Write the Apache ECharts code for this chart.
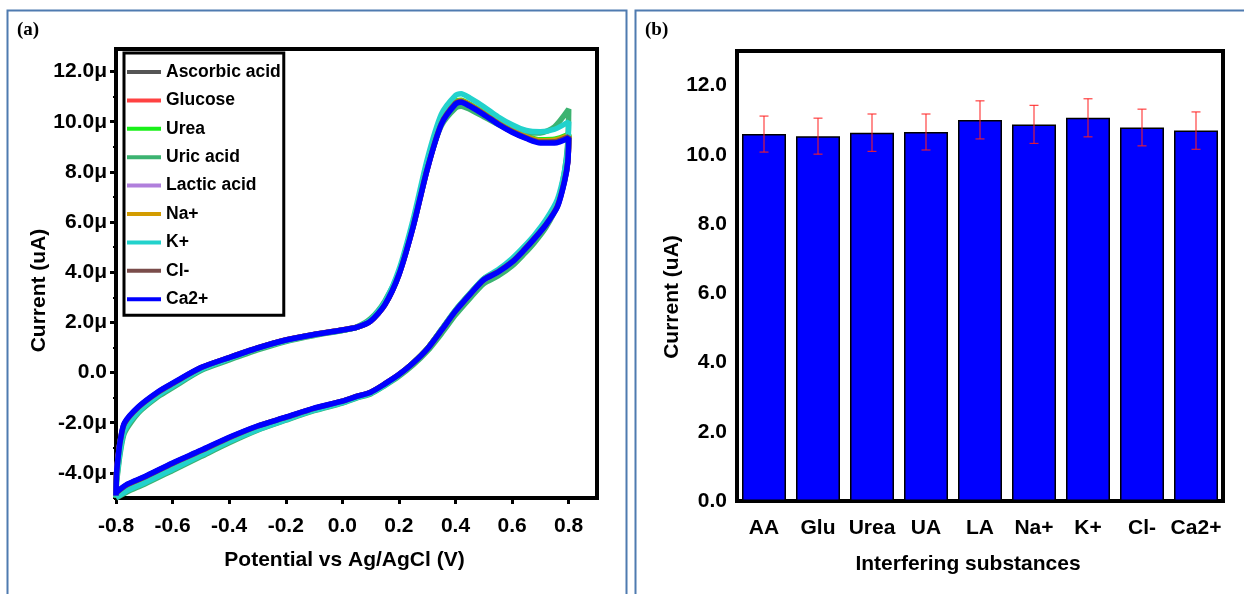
<!DOCTYPE html>
<html>
<head>
    <meta charset="utf-8">
    <title>Interference study</title>
    <script src="https://cdn.jsdelivr.net/npm/echarts@6/dist/echarts.min.js"></script>
    <style>
        html, body { margin: 0; padding: 0; background: #fff; }
        #chart { width: 1244px; height: 594px; }
    </style>
</head>
<body>
<div id="chart"></div>
<script>
    // (a) CV loop: potential (V), forward scan then reverse scan
    var potential = [
        -0.8, -0.798, -0.792, -0.785, -0.77, -0.72, -0.65, -0.6, -0.5, -0.4, -0.3, -0.2, -0.1, 0.0, 0.05,
        0.1, 0.15, 0.2, 0.25, 0.3, 0.35, 0.4, 0.42, 0.45, 0.5, 0.55, 0.6, 0.65, 0.7, 0.75, 0.8,
        0.797, 0.785, 0.76, 0.72, 0.68, 0.64, 0.6, 0.55, 0.5, 0.45, 0.4, 0.35, 0.3, 0.25,
        0.2, 0.15, 0.1, 0.05, 0.0, -0.1, -0.2, -0.3, -0.4, -0.5, -0.6, -0.7, -0.76, -0.8
    ];
    // currents in µA, same order as potential
    var ascorbicAcid = [
        -4.92, -4.1, -3.4, -2.8, -2.1, -1.4, -0.8, -0.47, 0.18, 0.58, 0.97, 1.29, 1.51, 1.69, 1.8,
        2.07, 2.72, 3.95, 5.85, 8.15, 9.95, 10.75, 10.82, 10.66, 10.32, 9.95, 9.62, 9.38, 9.22, 9.25, 9.45,
        8.5, 7.7, 6.7, 5.95, 5.4, 4.9, 4.45, 4.05, 3.72, 3.12, 2.47, 1.7, 0.95, 0.38,
        -0.1, -0.47, -0.8, -0.97, -1.16, -1.45, -1.8, -2.16, -2.62, -3.14, -3.64, -4.18, -4.5, -4.82
    ];
    var glucose = [
        -4.9, -4.05, -3.35, -2.75, -2.05, -1.38, -0.8, -0.46, 0.19, 0.59, 0.97, 1.3, 1.52, 1.7, 1.81,
        2.06, 2.7, 3.92, 5.82, 8.12, 9.92, 10.72, 10.8, 10.64, 10.3, 9.92, 9.6, 9.36, 9.2, 9.22, 9.4,
        8.45, 7.65, 6.65, 5.92, 5.37, 4.87, 4.42, 4.02, 3.7, 3.1, 2.46, 1.69, 0.94, 0.38,
        -0.09, -0.46, -0.79, -0.96, -1.15, -1.44, -1.79, -2.15, -2.6, -3.12, -3.62, -4.17, -4.47, -4.8
    ];
    var urea = [
        -4.93, -4.1, -3.45, -2.85, -2.1, -1.42, -0.8, -0.47, 0.17, 0.58, 0.96, 1.28, 1.51, 1.69, 1.8,
        2.08, 2.75, 3.98, 5.9, 8.2, 10.0, 10.8, 10.86, 10.7, 10.36, 9.98, 9.66, 9.42, 9.28, 9.3, 9.5,
        8.6, 7.75, 6.72, 5.98, 5.42, 4.92, 4.47, 4.06, 3.74, 3.13, 2.48, 1.7, 0.95, 0.38,
        -0.1, -0.48, -0.8, -0.98, -1.17, -1.47, -1.83, -2.2, -2.66, -3.2, -3.7, -4.25, -4.55, -4.86
    ];
    var uricAcid = [
        -5.0, -4.4, -3.8, -3.2, -2.4, -1.6, -0.95, -0.6, 0.08, 0.5, 0.9, 1.24, 1.48, 1.68, 1.82,
        2.15, 2.85, 4.0, 5.9, 8.2, 9.85, 10.55, 10.62, 10.5, 10.2, 9.9, 9.65, 9.55, 9.55, 9.8, 10.5,
        9.2, 8.0, 6.7, 5.8, 5.2, 4.7, 4.25, 3.85, 3.55, 2.95, 2.3, 1.55, 0.85, 0.3,
        -0.15, -0.52, -0.85, -1.02, -1.22, -1.52, -1.9, -2.3, -2.8, -3.35, -3.9, -4.45, -4.75, -5.0
    ];
    var lacticAcid = [
        -4.9, -4.02, -3.32, -2.72, -2.02, -1.37, -0.77, -0.44, 0.19, 0.6, 0.98, 1.3, 1.52, 1.7, 1.8,
        2.05, 2.7, 3.9, 5.8, 8.1, 9.92, 10.73, 10.8, 10.64, 10.3, 9.92, 9.6, 9.35, 9.18, 9.18, 9.38,
        8.45, 7.62, 6.62, 5.9, 5.36, 4.86, 4.41, 4.01, 3.7, 3.1, 2.45, 1.68, 0.94, 0.38,
        -0.08, -0.45, -0.78, -0.95, -1.14, -1.43, -1.79, -2.14, -2.6, -3.12, -3.62, -4.17, -4.47, -4.8
    ];
    var sodium = [
        -4.92, -4.05, -3.38, -2.78, -2.06, -1.4, -0.79, -0.46, 0.18, 0.59, 0.97, 1.29, 1.51, 1.69, 1.8,
        2.06, 2.72, 3.94, 5.85, 8.15, 9.95, 10.76, 10.84, 10.68, 10.34, 9.96, 9.64, 9.4, 9.24, 9.26, 9.46,
        8.5, 7.68, 6.68, 5.94, 5.39, 4.89, 4.44, 4.04, 3.72, 3.12, 2.47, 1.69, 0.95, 0.38,
        -0.09, -0.46, -0.79, -0.96, -1.15, -1.44, -1.8, -2.16, -2.62, -3.15, -3.66, -4.2, -4.5, -4.82
    ];
    var potassium = [
        -4.95, -4.3, -3.7, -3.1, -2.3, -1.55, -0.9, -0.55, 0.12, 0.55, 0.95, 1.27, 1.5, 1.68, 1.8,
        2.1, 2.8, 4.1, 6.1, 8.5, 10.3, 11.05, 11.12, 10.95, 10.6, 10.2, 9.88, 9.65, 9.6, 9.7, 10.0,
        9.0, 8.0, 6.9, 6.1, 5.5, 5.0, 4.55, 4.1, 3.75, 3.15, 2.5, 1.72, 0.95, 0.38,
        -0.1, -0.5, -0.82, -1.0, -1.2, -1.5, -1.88, -2.28, -2.75, -3.3, -3.85, -4.4, -4.7, -4.98
    ];
    var chloride = [
        -4.9, -4.03, -3.33, -2.73, -2.03, -1.37, -0.77, -0.44, 0.19, 0.6, 0.98, 1.3, 1.52, 1.7, 1.8,
        2.05, 2.7, 3.91, 5.82, 8.12, 9.93, 10.74, 10.81, 10.65, 10.31, 9.93, 9.61, 9.36, 9.19, 9.2, 9.4,
        8.45, 7.64, 6.64, 5.91, 5.37, 4.87, 4.42, 4.02, 3.71, 3.11, 2.46, 1.69, 0.94, 0.38,
        -0.08, -0.45, -0.78, -0.95, -1.14, -1.43, -1.79, -2.14, -2.6, -3.12, -3.62, -4.17, -4.47, -4.8
    ];
    var calcium = [
        -4.9, -4.0, -3.3, -2.7, -2.0, -1.35, -0.75, -0.42, 0.2, 0.6, 0.98, 1.3, 1.52, 1.7, 1.8,
        2.05, 2.7, 3.9, 5.8, 8.1, 9.9, 10.7, 10.78, 10.62, 10.28, 9.9, 9.58, 9.33, 9.15, 9.15, 9.35,
        8.4, 7.6, 6.6, 5.9, 5.35, 4.85, 4.4, 4.0, 3.7, 3.1, 2.45, 1.68, 0.94, 0.38,
        -0.08, -0.45, -0.78, -0.95, -1.14, -1.42, -1.78, -2.13, -2.58, -3.1, -3.6, -4.15, -4.45, -4.78
    ];
    var cvNames = ['Ascorbic acid', 'Glucose', 'Urea', 'Uric acid', 'Lactic acid', 'Na+', 'K+', 'Cl-', 'Ca2+'];
    var cvTicksX = [-0.8, -0.6, -0.4, -0.2, 0, 0.2, 0.4, 0.6, 0.8];
    var cvTicksY = [-4, -2, 0, 2, 4, 6, 8, 10, 12];
    var cvMinorY = [-5, -3, -1, 1, 3, 5, 7, 9, 11];

    // (b) mean peak current (uA) with error
    var substances = ['AA', 'Glu', 'Urea', 'UA', 'LA', 'Na+', 'K+', 'Cl-', 'Ca2+'];
    var meanCurrent = [10.6, 10.54, 10.64, 10.66, 11.01, 10.88, 11.07, 10.79, 10.7];
    var errCurrent = [0.52, 0.52, 0.54, 0.52, 0.55, 0.55, 0.55, 0.53, 0.54];
    var barTicksY = [0, 2, 4, 6, 8, 10, 12];

    var FONT = "'Liberation Sans', Arial, sans-serif";
    var cvData = [ascorbicAcid, glucose, urea, uricAcid, lacticAcid, sodium, potassium, chloride, calcium];
    var cvColors = ['#555555', '#ff4242', '#19f019', '#3cb371', '#b07fdc', '#d39c00', '#22d2cc', '#7a4c4a', '#0000ff'];

    var chart = echarts.init(document.getElementById('chart'));

    var series = cvNames.map(function (name, k) {
        return {
            name: name,
            type: 'line',
            xAxisIndex: 0,
            yAxisIndex: 0,
            symbol: 'none',
            smooth: 0.25,
            color: cvColors[k],
            lineStyle: { width: 5.5, color: cvColors[k] },
            data: potential.map(function (v, i) { return [v, cvData[k][i]]; })
        };
    });
    series.push({
        type: 'bar',
        xAxisIndex: 1,
        yAxisIndex: 2,
        barWidth: 44,
        itemStyle: { color: '#0000ff', borderColor: '#000', borderWidth: 1.5 },
        data: meanCurrent
    });
    series.push({
        type: 'custom',
        xAxisIndex: 1,
        yAxisIndex: 2,
        z: 5,
        encode: { x: 0, y: [1, 2] },
        data: meanCurrent.map(function (v, i) { return [i, v - errCurrent[i], v + errCurrent[i]]; }),
        renderItem: function (params, api) {
            var top = api.coord([api.value(0), api.value(2)]);
            var bot = api.coord([api.value(0), api.value(1)]);
            var hw = 4.5;
            var st = { stroke: '#ff2020', lineWidth: 1.2, opacity: 0.85 };
            return {
                type: 'group',
                children: [
                    { type: 'line', shape: { x1: top[0], y1: top[1], x2: bot[0], y2: bot[1] }, style: st },
                    { type: 'line', shape: { x1: top[0] - hw, y1: top[1], x2: top[0] + hw, y2: top[1] }, style: st },
                    { type: 'line', shape: { x1: bot[0] - hw, y1: bot[1], x2: bot[0] + hw, y2: bot[1] }, style: st }
                ]
            };
        }
    });

    var labelStyle = { color: '#000', fontSize: 21, fontWeight: 'bold', fontFamily: FONT };
    function nameStyle(pad) {
        return { color: '#000', fontSize: 21, fontWeight: 'bold', fontFamily: FONT, padding: pad };
    }
    var axisLine = { show: true, onZero: false, lineStyle: { color: '#000', width: 4 } };

    chart.setOption({
        animation: false,
        backgroundColor: '#fff',
        grid: [
            { left: 116, top: 49, width: 481, height: 449, show: true, borderColor: '#000', borderWidth: 4 },
            { left: 737, top: 51, width: 486, height: 450, show: true, borderColor: '#000', borderWidth: 4 }
        ],
        legend: {
            data: cvNames,
            orient: 'vertical',
            left: 124,
            top: 53,
            icon: 'rect',
            itemWidth: 34,
            itemHeight: 4,
            itemGap: 8.4,
            padding: [9, 3, 6, 3],
            borderColor: '#000',
            borderWidth: 3,
            backgroundColor: '#fff',
            selectedMode: false,
            textStyle: { color: '#000', fontSize: 17.5, fontWeight: 'bold', fontFamily: FONT, lineHeight: 20 }
        },
        xAxis: [
            {
                type: 'value', gridIndex: 0, min: -0.8, max: 0.9, interval: 0.2,
                axisLine: axisLine,
                axisTick: { customValues: cvTicksX, length: 6, lineStyle: { color: '#000', width: 3 } },
                axisLabel: Object.assign({ customValues: cvTicksX, margin: 18, formatter: function (v) { return v.toFixed(1); } }, labelStyle),
                splitLine: { show: false },
                name: 'Potential vs Ag/AgCl (V)', nameLocation: 'middle', nameGap: 52, nameTextStyle: nameStyle([0, 24, 0, 0])
            },
            {
                type: 'category', gridIndex: 1, data: substances,
                axisLine: axisLine,
                axisTick: { alignWithLabel: true, length: 6, lineStyle: { color: '#000', width: 3 } },
                axisLabel: Object.assign({ margin: 17, interval: 0 }, labelStyle),
                name: 'Interfering substances', nameLocation: 'middle', nameGap: 53, nameTextStyle: nameStyle([0, 24, 0, 0])
            }
        ],
        yAxis: [
            {
                type: 'value', gridIndex: 0, min: -5, max: 12.9, position: 'left',
                axisLine: axisLine,
                axisTick: { customValues: cvTicksY, length: 6, lineStyle: { color: '#000', width: 3 } },
                axisLabel: Object.assign({
                    customValues: cvTicksY, margin: 9,
                    formatter: function (v) { return v === 0 ? '0.0' : v.toFixed(1) + 'μ'; }
                }, labelStyle),
                splitLine: { show: false },
                name: 'Current (uA)', nameLocation: 'middle', nameGap: 49, nameTextStyle: nameStyle([0, 34, 0, 0])
            },
            {
                // minor ticks
                type: 'value', gridIndex: 0, min: -5, max: 12.9, position: 'left', offset: 0,
                axisLine: { show: false, onZero: false },
                axisTick: { customValues: cvMinorY, length: 3, lineStyle: { color: '#000', width: 2 } },
                axisLabel: { show: false },
                splitLine: { show: false }
            },
            {
                type: 'value', gridIndex: 1, min: 0, max: 13, interval: 2,
                axisLine: axisLine,
                axisTick: { customValues: barTicksY, length: 6, lineStyle: { color: '#000', width: 3 } },
                axisLabel: Object.assign({ customValues: barTicksY, margin: 10, formatter: function (v) { return v.toFixed(1); } }, labelStyle),
                splitLine: { show: false },
                name: 'Current (uA)', nameLocation: 'middle', nameGap: 37, nameTextStyle: nameStyle([0, 42, 0, 0])
            }
        ],
        graphic: [
            { type: 'rect', shape: { x: 7.5, y: 10.5, width: 619, height: 600 }, style: { fill: 'none', stroke: '#4f7bb0', lineWidth: 2 } },
            { type: 'rect', shape: { x: 635.5, y: 10.5, width: 640, height: 600 }, style: { fill: 'none', stroke: '#4f7bb0', lineWidth: 2 } },
            { type: 'text', left: 17, top: 21, style: { text: '(a)', fill: '#000', font: "bold 19px 'Liberation Serif', 'Times New Roman', serif" } },
            { type: 'text', left: 645, top: 21, style: { text: '(b)', fill: '#000', font: "bold 19px 'Liberation Serif', 'Times New Roman', serif" } }
        ],
        series: series
    });
</script>
</body>
</html>
